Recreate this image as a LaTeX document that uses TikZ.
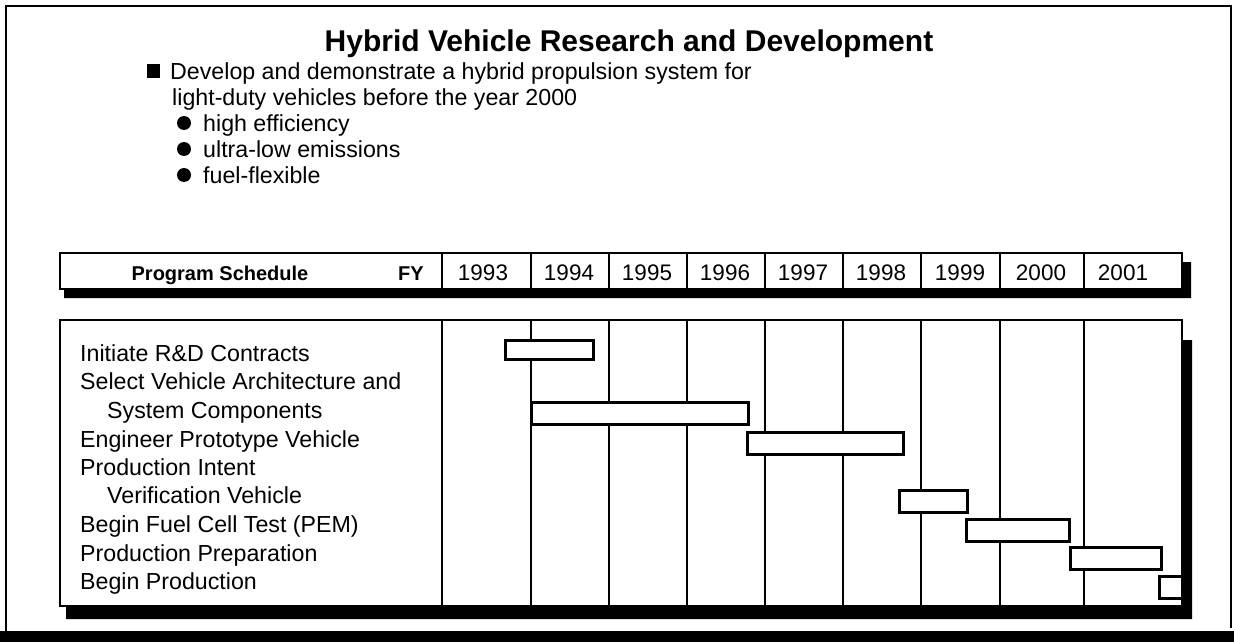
\documentclass[tikz,border=0pt]{standalone}
\usepackage{fontspec}
\setmainfont{Liberation Sans}
\begin{document}
\begin{tikzpicture}[x=1pt,y=-1pt,
  txt/.style={inner sep=0pt,anchor=base west,font=\fontsize{23.2}{28}\selectfont},
  yr/.style={inner sep=0pt,anchor=base,font=\fontsize{22.5}{26}\selectfont},
  frameline/.style={line width=2pt},
  gridline/.style={line width=2pt},
  barbox/.style={draw,fill=white,line width=3pt},
  dot/.style={circle,fill=black,inner sep=0pt,minimum size=14pt}]
\useasboundingbox (0,0) rectangle (1234,642);
\fill[white] (0,0) rectangle (1234,642);
% outer frame
\draw[line width=2.5pt] (6,632) -- (6,6) -- (1231,6) -- (1231,628);
\fill[black] (0,631) rectangle (1234,642);
% title
\node[inner sep=0pt,anchor=base,font=\bfseries\fontsize{30}{36}\selectfont] (title) at (629,52) {Hybrid Vehicle Research and Development};
% goal
\node[fill=black,inner sep=0pt,minimum width=13pt,minimum height=14pt] (sq) at (153.5,71) {};
\node[txt] (g1) at (170,79) {Develop and demonstrate a hybrid propulsion system for};
\node[txt] (g2) at (172,105) {light-duty vehicles before the year 2000};
\node[dot] (d1) at (184,123) {};
\node[txt] (b1) at (203,131) {high efficiency};
\node[dot] (d2) at (184,149) {};
\node[txt] (b2) at (203,157) {ultra-low emissions};
\node[dot] (d3) at (184,175) {};
\node[txt] (b3) at (203,183) {fuel-flexible};
% header bar
\fill[black] (64,289) -- (1182,289) -- (1182,262) -- (1191,262) -- (1191,298) -- (64,298) -- cycle;
\draw[frameline,fill=white] (60,253) rectangle (1182,289);
\foreach \x in {442,531,609,687,765,843,921,1000,1084}
  \draw[gridline] (\x,253) -- (\x,289);
\node[inner sep=0pt,anchor=base,font=\bfseries\fontsize{20}{24}\selectfont] (ps) at (220,280) {Program Schedule};
\node[inner sep=0pt,anchor=base,font=\bfseries\fontsize{20}{24}\selectfont] (fy) at (411,280) {FY};
\node[yr] (y93) at (483,280) {1993};
\node[yr] (y94) at (569,280) {1994};
\node[yr] (y95) at (647,280) {1995};
\node[yr] (y96) at (725,280) {1996};
\node[yr] (y97) at (803,280) {1997};
\node[yr] (y98) at (881,280) {1998};
\node[yr] (y99) at (960,280) {1999};
\node[yr] (y00) at (1041,280) {2000};
\node[yr] (y01) at (1123,280) {2001};
% lower box
\fill[black] (66,606) -- (1182,606) -- (1182,340) -- (1192,340) -- (1192,619) -- (66,619) -- cycle;
\draw[frameline,fill=white] (60,320) rectangle (1182,606);
\foreach \x in {442,531,609,687,765,843,921,1000,1084}
  \draw[gridline] (\x,320) -- (\x,606);
% labels
\node[txt] (l1) at (80,361) {Initiate R\&D Contracts};
\node[txt] (l2) at (80,389) {Select Vehicle Architecture and};
\node[txt] (l2b) at (107,418) {System Components};
\node[txt] (l3) at (80,447) {Engineer Prototype Vehicle};
\node[txt] (l4) at (80,475) {Production Intent};
\node[txt] (l4b) at (107,503) {Verification Vehicle};
\node[txt] (l5) at (80,532) {Begin Fuel Cell Test (PEM)};
\node[txt] (l6) at (80,561) {Production Preparation};
\node[txt] (l7) at (80,589) {Begin Production};
% bars
\draw[barbox] (505,340) rectangle (593,359);
\draw[barbox] (531,402) rectangle (748,424);
\draw[barbox] (747,432) rectangle (903,454);
\draw[barbox] (899,490) rectangle (967,512);
\draw[barbox] (966,519) rectangle (1069,541);
\draw[barbox] (1070,547) rectangle (1161,569);
\draw[barbox] (1159,576) rectangle (1182,598);
\end{tikzpicture}
\end{document}
